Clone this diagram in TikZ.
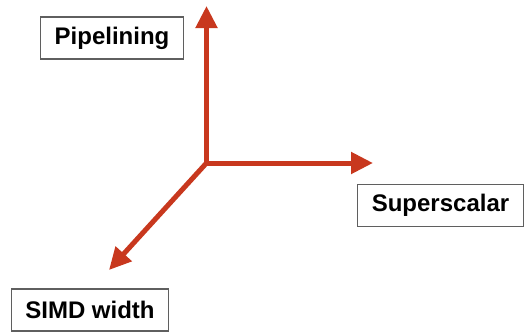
\documentclass[tikz,border=0pt]{standalone}
\usepackage{fontspec}
\setmainfont{Liberation Sans}
\usepackage{xcolor}
\usepackage{tikz}
\usetikzlibrary{arrows.meta,shapes}

\definecolor{axisred}{RGB}{200,56,30}
\definecolor{framegray}{RGB}{95,95,95}

\begin{document}
\begin{tikzpicture}[x=1pt,y=-1pt,
        axis/.style={draw=axisred, line width=5pt, -{Triangle[width=21pt,length=22pt]}},
        label/.style={draw=framegray, line width=1.1pt, fill=white, inner xsep=14pt,
            minimum height=42pt, font=\fontsize{24}{28}\selectfont\bfseries}]
        \useasboundingbox (0,0) rectangle (524,332);
        %\draw[help lines] (0,0) grid (524,332);
        \coordinate (origin) at (206.5,163);
        \coordinate (up) at (206.5,6);
        \coordinate (right) at (373,163);
        \coordinate (down) at (109,270);
        \draw[axis] (origin) -- (up);
        \draw[axis] (origin) -- (right);
        \draw[axis] (origin) -- (down);
        \node[label] (pipe) at (112,38) {Pipelining};
        \node[label] (superscalar) at (440.5,205.5) {Superscalar};
        \node[label] (simd) at (90,310) {SIMD width};
    \end{tikzpicture}
\end{document}
